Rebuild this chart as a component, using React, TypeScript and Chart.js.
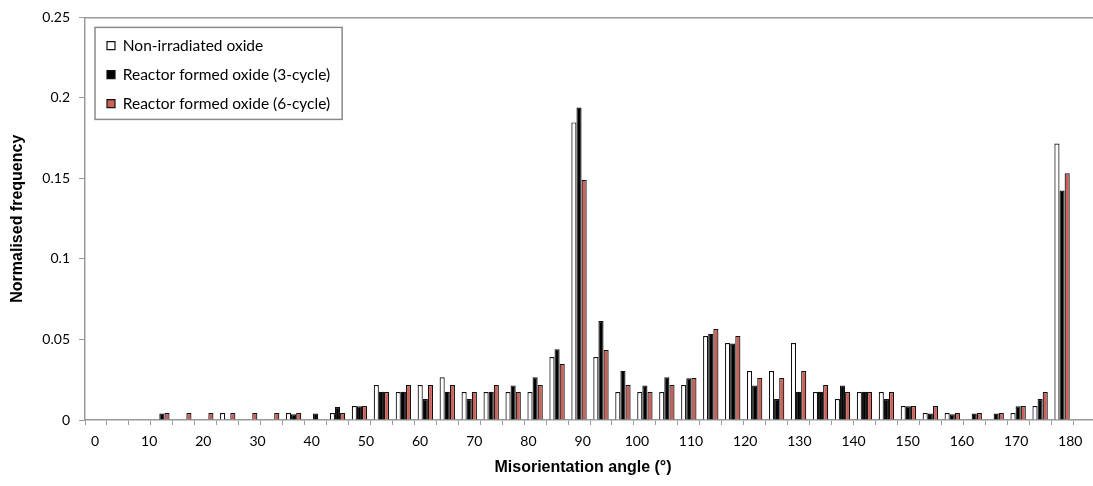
import React, { useEffect, useRef } from 'react';
import { Chart, registerables } from 'chart.js';

Chart.register(...registerables);

// 4-degree misorientation bins (bin start angles)
const binStarts = [
  0, 4, 8, 12, 16, 20, 24, 28, 32, 36, 40, 44, 48, 52, 56, 60, 64, 68, 72, 76, 80, 84, 88,
  92, 96, 100, 104, 108, 112, 116, 120, 124, 128, 132, 136, 140, 144, 148, 152, 156, 160,
  164, 168, 172, 176, 180,
];

const nonIrradiated = [
  0, 0, 0, 0, 0, 0, 0.0043, 0, 0, 0.0043,
  0, 0.0043, 0.0087, 0.0217, 0.0174, 0.0217, 0.0265, 0.0174, 0.0174, 0.0174,
  0.0174, 0.0391, 0.1848, 0.0391, 0.0174, 0.0174, 0.0174, 0.0217, 0.0522, 0.0478,
  0.0304, 0.0304, 0.0478, 0.0174, 0.013, 0.0174, 0.0174, 0.0087, 0.0043, 0.0043,
  0, 0, 0.0043, 0.0087, 0.1717, 0,
];

const reactor3 = [
  0, 0, 0, 0.004, 0, 0, 0, 0, 0, 0.0035,
  0.004, 0.008, 0.0085, 0.0175, 0.0175, 0.013, 0.0175, 0.013, 0.0175, 0.0215,
  0.0265, 0.044, 0.194, 0.0615, 0.0305, 0.0215, 0.0265, 0.026, 0.0535, 0.0475,
  0.0215, 0.013, 0.0175, 0.0175, 0.0215, 0.0175, 0.013, 0.0085, 0.004, 0.0035,
  0.004, 0.004, 0.0085, 0.013, 0.1425, 0,
];

const reactor6 = [
  0, 0, 0, 0.0043, 0.0043, 0.0043, 0.0043, 0.0043, 0.0043, 0.0043,
  0, 0.0043, 0.0087, 0.0174, 0.0217, 0.0217, 0.0217, 0.0174, 0.0217, 0.0174,
  0.0217, 0.0348, 0.1491, 0.0435, 0.0217, 0.0174, 0.0217, 0.0261, 0.0565, 0.0522,
  0.0261, 0.0261, 0.0304, 0.0217, 0.0174, 0.0174, 0.0174, 0.0087, 0.0087, 0.0043,
  0.0043, 0.0043, 0.0087, 0.0174, 0.1532, 0,
];

const xTickLabels = [0, 10, 20, 30, 40, 50, 60, 70, 80, 90, 100, 110, 120, 130, 140, 150, 160, 170, 180];
const yTickValues = [0, 0.05, 0.1, 0.15, 0.2, 0.25];

const seriesNames = [
  'Non-irradiated oxide',
  'Reactor formed oxide (3-cycle)',
  'Reactor formed oxide (6-cycle)',
];

const GREY = '#9a9a9a';
const TICK_FONT = { family: 'Lato', size: 14 };
const LEGEND_FONT = { family: 'Lato', size: 15.5 };
const TITLE_FONT = { family: 'Liberation Sans', size: 16, weight: 'bold' as const };

const layoutTweaks = {
  id: 'layoutTweaks',
  afterLayout(chart: any) {
    const ca = chart.chartArea;
    const lg = chart.legend;
    if (lg) {
      lg.left = ca.left + 8.5;
      lg.top = ca.top + 7;
    }
    const xl = chart.scales.xl;
    if (xl) xl.right -= 14;
  },
};

const legendFrame = {
  id: 'legendFrame',
  afterDraw(chart: any) {
    const lg = chart.legend;
    const boxes = lg?.legendHitBoxes;
    if (!lg || !boxes || !boxes.length) return;
    const pad = lg.options.labels.padding;
    const itemLeft = lg.left + pad;
    const itemTop = lg.top + pad;
    const maxW = Math.max(...boxes.map((b: any) => b.width));
    const n = boxes.length;
    const itemH = boxes[0].height;
    const l = itemLeft - 12;
    const t = itemTop - 10.5;
    const r = itemLeft + maxW + 12;
    const bt = itemTop + (n - 1) * (itemH + pad) + itemH + 8;
    const ctx = chart.ctx;
    ctx.save();
    ctx.strokeStyle = '#8a8a8a';
    ctx.lineWidth = 1.5;
    ctx.strokeRect(l, t, r - l, bt - t);
    ctx.restore();
  },
};

export default function App() {
  const ref = useRef<HTMLCanvasElement>(null);

  useEffect(() => {
    const labels = binStarts.map((s) => `${s}-${s + 4}`);
    const common = { borderColor: '#111111', borderWidth: 1.2, categoryPercentage: 0.7, barPercentage: 1 };
    const chart = new Chart(ref.current as HTMLCanvasElement, {
      type: 'bar',
      data: {
        labels,
        datasets: [
          { label: seriesNames[0], data: nonIrradiated, backgroundColor: '#ffffff', ...common },
          { label: seriesNames[1], data: reactor3, backgroundColor: '#000000', ...common },
          { label: seriesNames[2], data: reactor6, backgroundColor: '#CD6158', ...common },
        ],
      },
      options: {
        animation: false,
        responsive: true,
        maintainAspectRatio: false,
        layout: { padding: { top: 15, left: 0, right: 0, bottom: 0 } },
        plugins: {
          legend: {
            position: 'chartArea' as any,
            align: 'start',
            labels: {
              boxWidth: 8,
              boxHeight: 8,
              padding: 13.5,
              color: '#000',
              font: LEGEND_FONT,
            },
          },
          tooltip: { enabled: false },
        },
        scales: {
          x: {
            type: 'category',
            position: 'bottom',
            offset: true,
            grid: {
              display: true,
              offset: true,
              drawOnChartArea: false,
              drawTicks: true,
              tickLength: 5,
              color: GREY,
              lineWidth: 1,
            },
            border: { display: true, color: GREY, width: 1.5 },
            ticks: { display: false },
            afterFit: (s: any) => {
              s.height = 5;
            },
          },
          xl: {
            type: 'linear',
            position: 'bottom',
            weight: 1,
            offset: false,
            min: -1.846,
            max: 184.56,
            grid: { display: false, drawTicks: false, tickLength: 0, offset: false },
            border: { display: false },
            ticks: {
              padding: 8,
              font: TICK_FONT,
              color: '#000',
              maxRotation: 0,
              autoSkip: false,
              callback: (v: any) => String(v),
            },
            afterBuildTicks: (s: any) => {
              s.ticks = xTickLabels.map((v) => ({ value: v }));
            },
            title: {
              display: true,
              text: 'Misorientation angle (°)',
              font: TITLE_FONT,
              color: '#000',
              padding: { top: 0, bottom: 9 },
            },
            afterFit: (s: any) => {
              s.height = 61;
            },
          },
          xt: {
            type: 'linear',
            position: 'top',
            offset: false,
            min: 0,
            max: 1,
            grid: { display: false, drawTicks: false, tickLength: 0, offset: false },
            ticks: { display: false },
            border: { display: true, color: GREY, width: 1.5 },
            afterFit: (s: any) => {
              s.height = 0;
            },
          },
          y: {
            type: 'linear',
            min: 0,
            max: 0.25,
            grid: { drawOnChartArea: false, drawTicks: true, tickLength: 6, color: GREY },
            border: { display: true, color: GREY, width: 1.5 },
            ticks: {
              padding: 9,
              font: TICK_FONT,
              color: '#000',
              callback: (v: any) => String(v),
            },
            afterBuildTicks: (s: any) => {
              s.ticks = yTickValues.map((v) => ({ value: v }));
            },
            title: {
              display: true,
              text: 'Normalised frequency',
              font: TITLE_FONT,
              color: '#000',
              padding: { top: 8, bottom: 0 },
            },
            afterFit: (s: any) => {
              s.width = 85;
            },
          },
        },
      },
      plugins: [layoutTweaks, legendFrame],
    } as any);
    return () => chart.destroy();
  }, []);

  return (
    <div
      style={{
        position: 'fixed',
        left: 0,
        top: 0,
        width: 1093,
        height: 486,
        overflow: 'hidden',
        background: '#ffffff',
      }}
    >
      <div style={{ position: 'relative', width: 1095, height: 486 }}>
        <canvas ref={ref} />
      </div>
    </div>
  );
}
